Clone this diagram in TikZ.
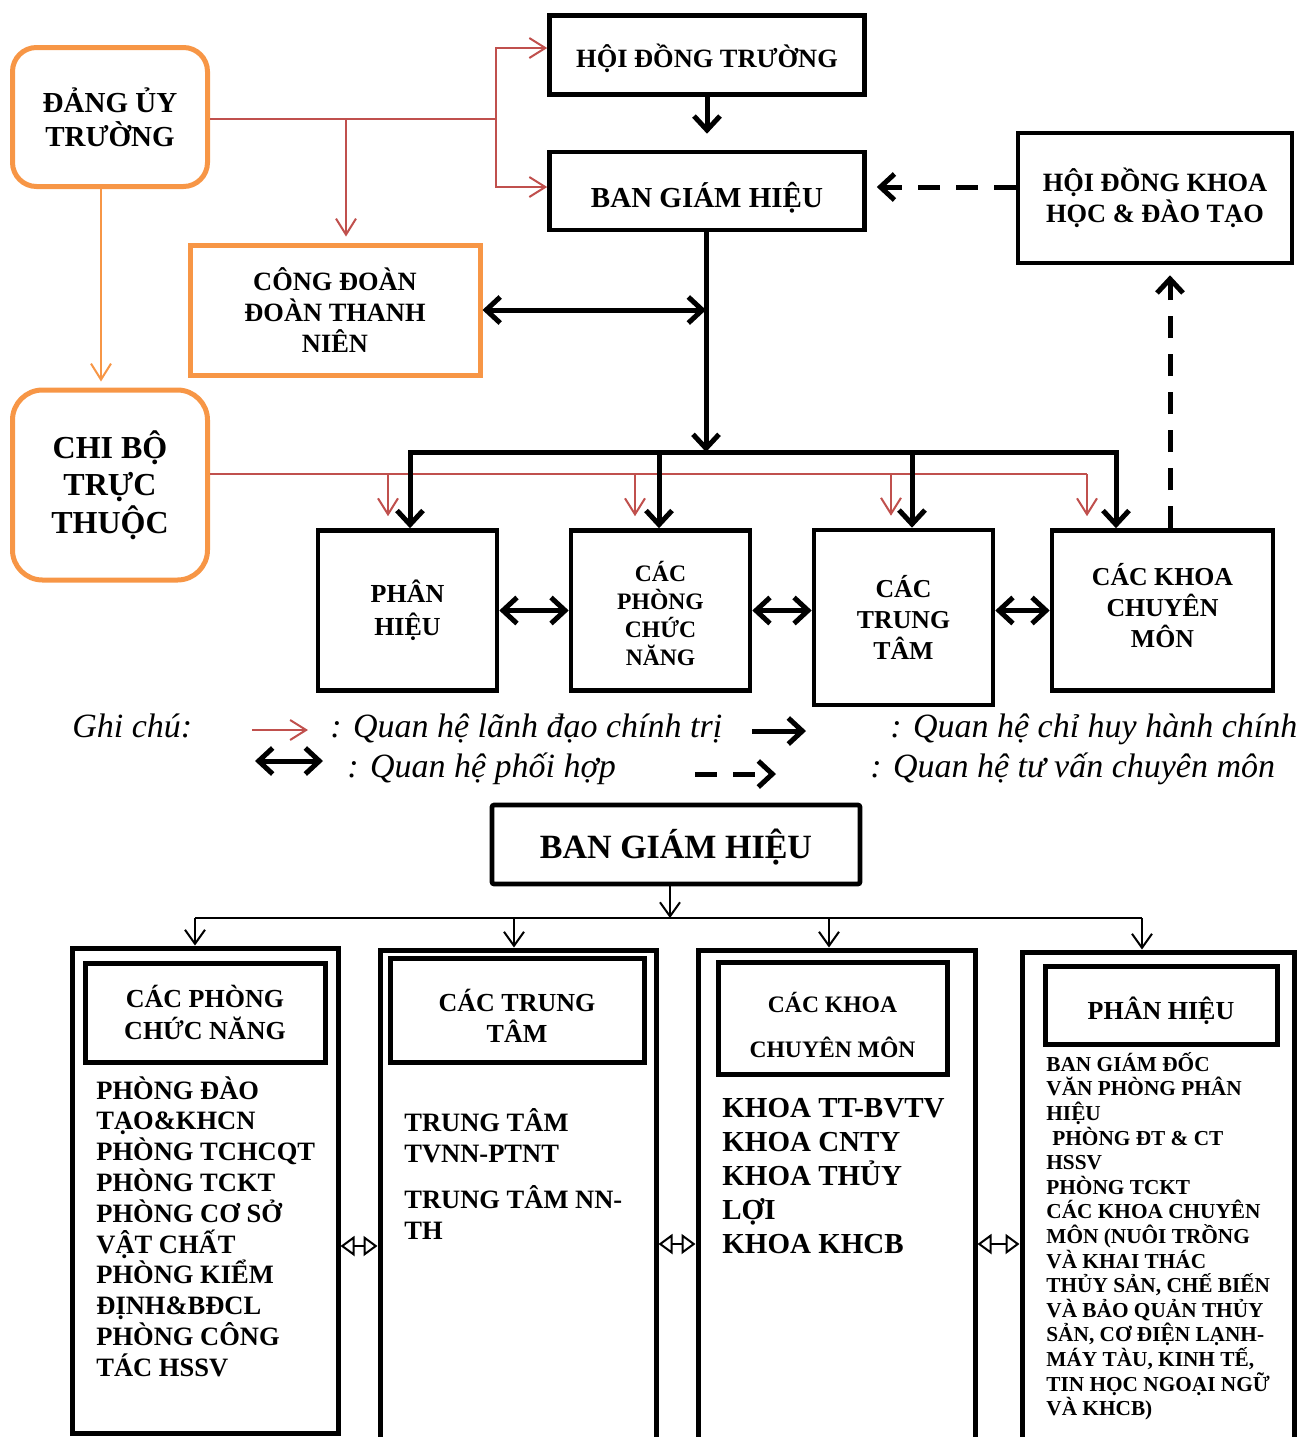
\documentclass[tikz,border=0pt]{standalone}
\usepackage{fontspec}
\setmainfont{Liberation Serif}
\usetikzlibrary{arrows.meta}

\definecolor{dangcam}{HTML}{F79646}
\definecolor{dangdo}{HTML}{C0504D}
\newcommand{\cochu}[2]{\bfseries\fontsize{#1}{#2}\selectfont}

\begin{document}
\begin{tikzpicture}[x=0.5pt, y=-0.5pt,
  hop/.style={draw, line width=2.3pt, align=center, inner sep=0pt},
  hopcam/.style={hop, draw=dangcam, line width=2.5pt},
  cot/.style={draw, line width=2.5pt, inner sep=0pt},
  than/.style={align=left, inner sep=0pt, anchor=north west},
  chu/.style={inner sep=0pt, anchor=base west, font=\itshape\fontsize{17}{20}\selectfont},
  dothin/.style={draw=dangdo, line width=1pt, >={Straight Barb[length=8pt,width=10pt]}},
  camthin/.style={draw=dangcam, line width=1pt, >={Straight Barb[length=8pt,width=10pt]}},
  dam/.style={draw=black, line width=2.5pt, >={Straight Barb[length=7pt,width=13pt]}},
  gach/.style={dam, dash pattern=on 11pt off 8pt},
  mong/.style={draw=black, line width=1pt, >={Straight Barb[length=7pt,width=10pt]}},
  rong/.style={draw=black, line width=1pt, {Triangle[open,length=7pt,width=10pt]}-{Triangle[open,length=7pt,width=10pt]}}]

  \useasboundingbox (0,0) rectangle (1307,1437);
  \clip (0,0) rectangle (1307,1437);

  % so do to chuc
  \node[hop, minimum width=157.5pt, minimum height=39.5pt,
    label={[font=\cochu{13.2}{16}, yshift=-1.5pt]center:HỘI ĐỒNG TRƯỜNG}] (hdt) at (707,55) {};
  \node[hop, minimum width=157.5pt, minimum height=39pt,
    label={[font=\cochu{14.5}{17}, yshift=-3.5pt]center:BAN GIÁM HIỆU}] (bgh) at (707,191) {};
  \node[hop, minimum width=137pt, minimum height=65pt, font=\cochu{13.2}{15.5}] (hdkh) at (1155,198) {HỘI ĐỒNG KHOA\\HỌC \& ĐÀO TẠO};
  \node[hopcam, rounded corners=12pt, minimum width=97.5pt, minimum height=69.5pt, font=\cochu{14.5}{17}] (dang) at (110,117) {ĐẢNG ỦY\\TRƯỜNG};
  \node[hopcam, minimum width=145pt, minimum height=65pt, font=\cochu{13.2}{15.5}] (cdoan) at (335,310) {CÔNG ĐOÀN\\ĐOÀN THANH\\NIÊN};
  \node[hopcam, rounded corners=15pt, minimum width=97.5pt, minimum height=95pt, font=\cochu{16}{18.75}] (chibo) at (110,485) {CHI BỘ\\TRỰC\\THUỘC};

  \node[hop, minimum width=89.5pt, minimum height=80pt, font=\cochu{13}{16.5}] (ph) at (407.5,610.5) {PHÂN\\HIỆU};
  \node[hop, minimum width=89.5pt, minimum height=80pt,
    label={[font=\cochu{11.8}{13.9}, align=center, yshift=-1.5pt]center:CÁC\\PHÒNG\\CHỨC\\NĂNG}] (cp) at (660.5,610.5) {};
  \node[hop, minimum width=89.5pt, minimum height=87.5pt, font=\cochu{12.9}{15.5}] (ctt) at (903.5,617.5) {CÁC\\TRUNG\\TÂM};
  \node[hop, minimum width=110.5pt, minimum height=80pt,
    label={[font=\cochu{12.9}{15.3}, align=center, yshift=2.5pt]center:CÁC KHOA\\CHUYÊN\\MÔN}] (ckhoa) at (1162.5,610.5) {};

  % duong do: lanh dao chinh tri
  \coordinate (rj) at (496,119);
  \coordinate (rb) at (346,119);
  \draw[dothin] (dang.east |- rj) -- (rj);
  \draw[dothin,->] (rj) |- ([yshift=3.5pt]hdt.west);
  \draw[dothin,->] (rj) |- ([yshift=2pt]bgh.west);
  \draw[dothin,->,shorten >=3pt] (rb) -- (rb |- cdoan.north);
  \draw[camthin,->,shorten >=3pt] ([xshift=-4.5pt]dang.south) -- ([xshift=-4.5pt]chibo.north);

  \coordinate (rbus) at (1087,474);
  \draw[dothin] (chibo.east |- rbus) -- (rbus);
  \foreach \x/\n in {388/ph,635/cp,891/ctt,1087/ckhoa}
    \draw[dothin,->,shorten >=6pt] (\x,474) -- (\x,474 |- \n.north);

  % duong den: chi huy hanh chinh
  \coordinate (bbus) at (706,452);
  \draw[dam,->,shorten >=8pt] (hdt.south) -- (bgh.north);
  \draw[dam,->] (bgh.south -| bbus) -- (bbus);
  \draw[dam, line cap=rect] (410,452) -- (1116,452);
  \foreach \x/\n in {410/ph,659/cp,912/ctt,1116/ckhoa}
    \draw[dam,->] (\x,452) -- (\x,452 |- \n.north);
  \draw[dam,<->] (cdoan.east) -- (cdoan.east -| bbus);
  \draw[dam,<->] (ph.east) -- (ph.east -| cp.west);
  \draw[dam,<->] (cp.east) -- (cp.east -| ctt.west);
  \draw[dam,<->] (ckhoa.west -| ctt.east) -- (ckhoa.west);

  % tu van
  \draw[gach,->,shorten >=5pt] ([yshift=5.5pt]hdkh.west) -- ([yshift=5.5pt]hdkh.west -| bgh.east);
  \draw[gach,->,shorten >=5pt] (1170,0 |- ckhoa.north) -- (1170,0 |- hdkh.south);

  % ghi chu
  \node[chu] (ghichu) at (72,737) {Ghi chú:};
  \node[chu] (lg1) at (330,737) {: Quan hệ lãnh đạo chính trị};
  \node[chu] (lg2) at (890,737) {: Quan hệ chỉ huy hành chính};
  \node[chu] (lg3) at (347,777) {: Quan hệ phối hợp};
  \node[chu] (lg4) at (870,777) {: Quan hệ tư vấn chuyên môn};
  \coordinate (k1a) at (252,730);
  \coordinate (k1b) at (308,730);
  \coordinate (k2a) at (752,731);
  \coordinate (k2b) at (806,731);
  \coordinate (k3a) at (255,761);
  \coordinate (k3b) at (323,761);
  \coordinate (k4a) at (695,774);
  \coordinate (k4b) at (776,774);
  \draw[dothin,->] (k1a) -- (k1b);
  \draw[dam,->] (k2a) -- (k2b);
  \draw[dam,<->] (k3a) -- (k3b);
  \draw[gach,->] (k4a) -- (k4b);

  % phan duoi
  \node[hop, rounded corners=1pt, minimum width=184pt, minimum height=39.5pt,
    label={[font=\cochu{17}{20}, yshift=-1.5pt]center:BAN GIÁM HIỆU}] (bgh2) at (676,844.5) {};
  \coordinate (nhanh) at (670,918);
  \draw[mong,->] (bgh2.south -| nhanh) -- (nhanh);
  \draw[mong] (195,918) -- (1142,918);

  \node[cot, minimum width=133pt, minimum height=242.5pt] (cot1) at (205,1190.5) {};
  \node[cot, minimum width=138pt, minimum height=260pt] (cot2) at (518,1210) {};
  \node[cot, minimum width=138.5pt, minimum height=260pt] (cot3) at (836.5,1210) {};
  \node[cot, minimum width=136pt, minimum height=259pt] (cot4) at (1158,1211) {};
  \foreach \x/\n in {195/cot1,514/cot2,829/cot3,1142/cot4}
    \draw[mong,->] (\x,918) -- (\x,918 |- \n.north);

  \node[hop, line width=2.5pt, minimum width=120pt, minimum height=49.5pt, font=\cochu{13}{16}] (dau1) at (205,1012.5) {CÁC PHÒNG\\CHỨC NĂNG};
  \node[hop, line width=2.5pt, minimum width=127pt, minimum height=52pt,
    label={[font=\cochu{13}{15.5}, align=center, yshift=-3pt]center:CÁC TRUNG\\TÂM}] (dau2) at (517,1010) {};
  \node[hop, line width=2.5pt, minimum width=114.5pt, minimum height=56pt,
    label={[font=\cochu{11.8}{22.5}, align=center, yshift=-3.5pt]center:CÁC KHOA\\CHUYÊN MÔN}] (dau3) at (832.5,1018) {};
  \node[hop, line width=2.5pt, minimum width=116pt, minimum height=39pt,
    label={[font=\cochu{13}{16}, yshift=-3pt]center:PHÂN HIỆU}] (dau4) at (1161,1005) {};

  \node[than, font=\cochu{13.25}{15.4}] (ds1) at (96,1076) {PHÒNG ĐÀO\\TẠO\&KHCN\\PHÒNG TCHCQT\\PHÒNG TCKT\\PHÒNG CƠ SỞ\\VẬT CHẤT\\PHÒNG KIỂM\\ĐỊNH\&BĐCL\\PHÒNG CÔNG\\TÁC HSSV};
  \node[than, font=\cochu{13.25}{15.4}] (ds2) at (404,1108) {TRUNG TÂM\\TVNN-PTNT\\[7.9pt]TRUNG TÂM NN-\\TH};
  \node[than, font=\cochu{14.5}{17}] (ds3) at (722,1098) {KHOA TT-BVTV\\KHOA CNTY\\KHOA THỦY\\LỢI\\KHOA KHCB};
  \node[than, font=\cochu{10.65}{12.3}] (ds4) at (1046,1052) {BAN GIÁM ĐỐC\\VĂN PHÒNG PHÂN\\HIỆU\\\hspace*{3pt}PHÒNG ĐT \& CT\\HSSV\\PHÒNG TCKT\\CÁC KHOA CHUYÊN\\MÔN (NUÔI TRỒNG\\VÀ KHAI THÁC\\THỦY SẢN, CHẾ BIẾN\\VÀ BẢO QUẢN THỦY\\SẢN, CƠ ĐIỆN LẠNH-\\MÁY TÀU, KINH TẾ,\\TIN HỌC NGOẠI NGỮ\\VÀ KHCB)};

  \draw[rong] (cot1.east |- 0,1246) -- (cot2.west |- 0,1246);
  \draw[rong] (cot2.east |- 0,1244) -- (cot3.west |- 0,1244);
  \draw[rong] (cot3.east |- 0,1244) -- (cot4.west |- 0,1244);
\end{tikzpicture}
\end{document}
